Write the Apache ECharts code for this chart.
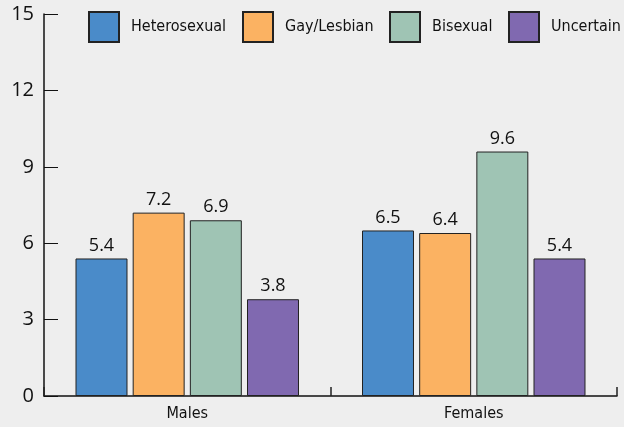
<!DOCTYPE html>
<html>
<head>
<meta charset="utf-8">
<script src="https://cdn.jsdelivr.net/npm/echarts@6/dist/echarts.min.js"></script>
<style>
  html, body { margin: 0; padding: 0; background: #eeeeee; }
  #chart { width: 624px; height: 427px; }
</style>
</head>
<body>
<div id="chart"></div>
<script>
// data
const categories = ['Males', 'Females'];
const seriesNames = ['Heterosexual', 'Gay/Lesbian', 'Bisexual', 'Uncertain'];
const heterosexual = [5.4, 6.5];
const gayLesbian = [7.2, 6.4];
const bisexual = [6.9, 9.6];
const uncertain = [3.8, 5.4];
const colors = ['#4a8bc9', '#fbb262', '#9fc4b4', '#8069b0'];

const narrow = '"DejaVu Sans Condensed", "Liberation Sans Narrow", sans-serif';
const legendLefts = [88, 242, 389, 508];

let chart = echarts.init(document.getElementById('chart'));

function makeSeries(name, data, color) {
  return {
    name: name,
    type: 'bar',
    data: data,
    barGap: '10%',
    barCategoryGap: '22%',
    itemStyle: {
      color: color,
      borderColor: '#222',
      borderWidth: 1
    },
    label: {
      show: true,
      position: 'top',
      distance: 4,
      color: '#111',
      fontSize: 18,
      fontFamily: '"Open Sans", sans-serif'
    }
  };
}

// one legend per item so each sits where the reference has it
const legends = seriesNames.map((name, i) => ({
  left: legendLefts[i],
  top: 11,
  padding: 0,
  icon: 'rect',
  itemWidth: 30,
  itemHeight: 30,
  data: [name],
  textStyle: {
    color: '#111',
    fontSize: 16,
    fontFamily: narrow,
    padding: [0, 0, 0, 7]
  }
}));

const option = {
  backgroundColor: '#eeeeee',
  animation: false,
  color: colors,
  grid: { left: 44, right: 7, top: 14, bottom: 31 },
  legend: legends,
  xAxis: {
    type: 'category',
    data: categories,
    axisLine: { lineStyle: { color: '#111', width: 1.5 } },
    axisTick: { show: true, inside: true, length: 9, lineStyle: { color: '#222', width: 1.5 } },
    axisLabel: { color: '#111', fontSize: 16, fontFamily: narrow, margin: 10 }
  },
  yAxis: {
    type: 'value',
    min: 0,
    max: 15,
    interval: 3,
    splitLine: { show: false },
    axisLine: { show: true, lineStyle: { color: '#111', width: 1.5 } },
    axisTick: { show: true, inside: true, length: 14, lineStyle: { color: '#111' } },
    axisLabel: { color: '#111', fontSize: 20, fontFamily: '"Open Sans", sans-serif', margin: 10 }
  },
  series: [
    makeSeries(seriesNames[0], heterosexual, colors[0]),
    makeSeries(seriesNames[1], gayLesbian, colors[1]),
    makeSeries(seriesNames[2], bisexual, colors[2]),
    makeSeries(seriesNames[3], uncertain, colors[3])
  ]
};

chart.setOption(option);
</script>
</body>
</html>
